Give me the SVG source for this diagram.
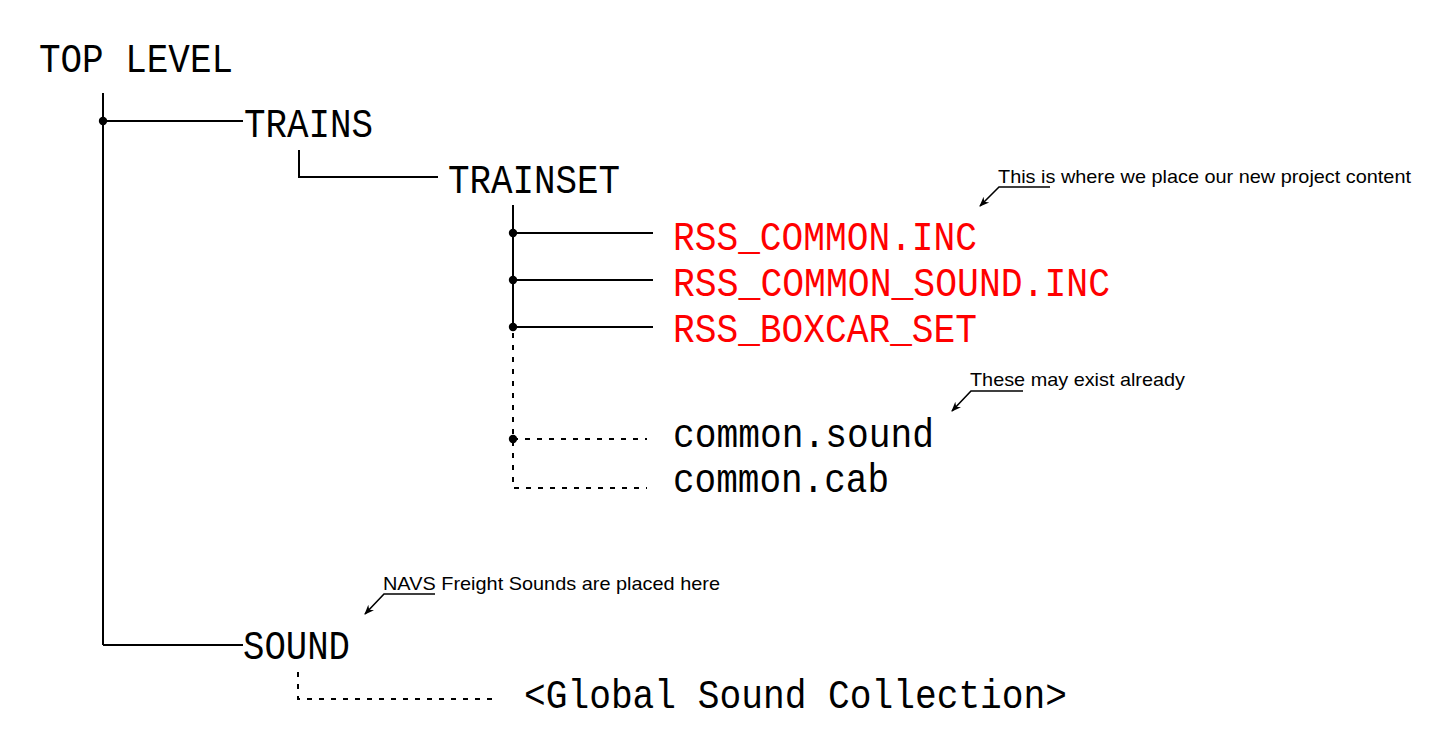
<svg xmlns="http://www.w3.org/2000/svg" width="1449" height="751" viewBox="0 0 1449 751">
<defs>
<style>
.n{font-family:"Liberation Mono","DejaVu Sans Mono",monospace;font-size:41px;fill:#000}
.r{fill:#ff0000}
.a{font-family:"Liberation Sans",Arial,sans-serif;font-size:19px;fill:#000}
.l{fill:none;stroke:#000;stroke-width:2}
.d{fill:none;stroke:#000;stroke-width:2;stroke-dasharray:5 7}
.t{fill:none;stroke:#000;stroke-width:1.6}
.dot{fill:#000}
</style>
<marker id="ah" viewBox="0 0 10 10" refX="9" refY="5" markerWidth="10" markerHeight="10" markerUnits="userSpaceOnUse" orient="auto">
<path d="M0 1 L10 5 L0 9 L3 5 Z" fill="#000"/>
</marker>
</defs>
<rect width="1449" height="751" fill="#fff"/>
<g id="connectors">
<line class="l" x1="103" y1="93" x2="103" y2="645"/>
<line class="l" x1="103" y1="121" x2="243" y2="121"/>
<line class="l" x1="103" y1="645" x2="243" y2="645"/>
<circle class="dot" cx="103" cy="121" r="4.2"/>
<path class="l" d="M299 150 V177 H438"/>
<line class="l" x1="513" y1="205" x2="513" y2="327"/>
<line class="l" x1="513" y1="233" x2="653" y2="233"/>
<line class="l" x1="513" y1="280" x2="653" y2="280"/>
<line class="l" x1="513" y1="327" x2="653" y2="327"/>
<circle class="dot" cx="513" cy="233" r="4.2"/>
<circle class="dot" cx="513" cy="280" r="4.2"/>
<circle class="dot" cx="513" cy="327" r="4.2"/>
<path class="d" d="M513 333 V488 H647"/>
<line class="d" x1="513" y1="439" x2="647" y2="439"/>
<circle class="dot" cx="513" cy="439" r="4.2"/>
<path class="d" d="M298 672 V699 H495"/>
</g>
<g id="top-level"><text class="n" x="39" y="72" textLength="194" lengthAdjust="spacingAndGlyphs">TOP LEVEL</text></g>
<g id="trains"><text class="n" x="244" y="137" textLength="129" lengthAdjust="spacingAndGlyphs">TRAINS</text></g>
<g id="trainset"><text class="n" x="448" y="193" textLength="172" lengthAdjust="spacingAndGlyphs">TRAINSET</text></g>
<g id="rss-common-inc"><text class="n r" x="673" y="250" textLength="304" lengthAdjust="spacingAndGlyphs">RSS_COMMON.INC</text></g>
<g id="rss-common-sound-inc"><text class="n r" x="673" y="296" textLength="437" lengthAdjust="spacingAndGlyphs">RSS_COMMON_SOUND.INC</text></g>
<g id="rss-boxcar-set"><text class="n r" x="673" y="342" textLength="304" lengthAdjust="spacingAndGlyphs">RSS_BOXCAR_SET</text></g>
<g id="common-sound"><text class="n" x="673" y="447" textLength="261" lengthAdjust="spacingAndGlyphs">common.sound</text></g>
<g id="common-cab"><text class="n" x="673" y="492" textLength="216" lengthAdjust="spacingAndGlyphs">common.cab</text></g>
<g id="sound"><text class="n" x="243" y="659" textLength="107" lengthAdjust="spacingAndGlyphs">SOUND</text></g>
<g id="global-sound"><text class="n" x="524" y="708" textLength="543" lengthAdjust="spacingAndGlyphs">&lt;Global Sound Collection&gt;</text></g>
<g id="note-project">
<text class="a" x="998" y="183" textLength="413" lengthAdjust="spacingAndGlyphs">This is where we place our new project content</text>
<path class="t" d="M1050 187 H999 L980 206" marker-end="url(#ah)"/>
</g>
<g id="note-exist">
<text class="a" x="970" y="386" textLength="215" lengthAdjust="spacingAndGlyphs">These may exist already</text>
<path class="t" d="M1023 391 H971 L952 411" marker-end="url(#ah)"/>
</g>
<g id="note-navs">
<text class="a" x="383" y="590" textLength="337" lengthAdjust="spacingAndGlyphs">NAVS Freight Sounds are placed here</text>
<path class="t" d="M435 594 H384 L365 614" marker-end="url(#ah)"/>
</g>
</svg>
